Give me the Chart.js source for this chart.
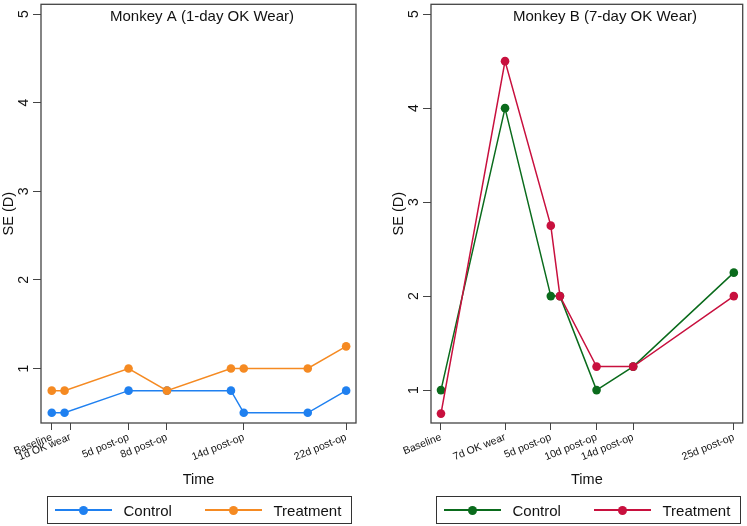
<!DOCTYPE html>
<html lang="en">
<head>
<meta charset="UTF-8">
<title>SE over time - Monkey A and Monkey B</title>
<script src="https://cdn.jsdelivr.net/npm/chart.js"></script>
<style>
  body { margin: 0; background: #fff; font-family: "Liberation Sans", Arial, sans-serif; }
  #wrap { position: relative; width: 747px; height: 526px; overflow: hidden; }
  canvas { position: absolute; top: 0; }
  #chartA { left: 0; }
  #chartB { left: 390px; }
  .legend {
    position: absolute; top: 496px; height: 28px; width: 305px;
    border: 1px solid #333; box-sizing: border-box;
  }
  #legendA { left: 47px; }
  #legendB { left: 436px; }
  .item { position: absolute; top: 0; height: 100%; display: flex; align-items: center; font-size: 15px; color: #111; }
  .swatch { position: relative; width: 57px; height: 100%; margin-right: 12px; }
  .swatch .line { position: absolute; left: 0; right: 0; top: 50%; height: 1.5px; margin-top: -0.75px; }
  .swatch .dot { position: absolute; left: 50%; top: 50%; width: 9px; height: 9px; margin: -4.5px 0 0 -4.5px; border-radius: 50%; }
</style>
</head>
<body>
<div id="wrap">
  <canvas id="chartA" width="373" height="526"></canvas>
  <canvas id="chartB" width="357" height="526"></canvas>
  <div class="legend" id="legendA"></div>
  <div class="legend" id="legendB"></div>
</div>

<script>
  // Monkey A (1-day OK wear): x in days from baseline
  const daysA = [0, 1, 6, 9, 14, 15, 20, 23];
  const controlA = [0.5, 0.5, 0.75, 0.75, 0.75, 0.5, 0.5, 0.75];
  const treatA = [0.75, 0.75, 1, 0.75, 1, 1, 1, 1.25];
  const tickPosA = [0, 1.45, 6, 9, 15, 23];
  const tickLabA = ['Baseline', '1d OK wear', '5d post-op', '8d post-op', '14d post-op', '22d post-op'];

  // Monkey B (7-day OK wear)
  const daysB = [0, 7, 12, 13, 17, 21, 32];
  const controlB = [1, 4, 2, 2, 1, 1.25, 2.25];
  const treatB = [0.75, 4.5, 2.75, 2, 1.25, 1.25, 2];
  const tickPosB = [0, 7, 12, 17, 21, 32];
  const tickLabB = ['Baseline', '7d OK wear', '5d post-op', '10d post-op', '14d post-op', '25d post-op'];

  const yTicks = [1, 2, 3, 4, 5];
  const seriesNames = ['Control', 'Treatment'];

  const FONT = '"Liberation Sans", Arial, sans-serif';
  Chart.defaults.font.family = FONT;
  Chart.defaults.color = '#111';

  // frame, rotated y tick labels and panel title
  const framePlugin = {
    id: 'frame',
    afterDraw(chart, args, opts) {
      const { ctx, chartArea: a } = chart;
      const y = chart.scales.y;
      ctx.save();
      ctx.strokeStyle = '#444';
      ctx.lineWidth = 1.3;
      ctx.strokeRect(a.left, a.top, a.right - a.left, a.bottom - a.top);

      ctx.fillStyle = '#111';
      ctx.font = '14px ' + FONT;
      ctx.textAlign = 'center';
      ctx.textBaseline = 'middle';
      y.ticks.forEach(t => {
        ctx.save();
        ctx.translate(a.left - 17, y.getPixelForValue(t.value));
        ctx.rotate(-Math.PI / 2);
        ctx.fillText(String(t.value), 0, 0);
        ctx.restore();
      });

      ctx.font = '15px ' + FONT;
      ctx.fillText(opts.text, opts.x, a.top + 13);
      ctx.restore();
    }
  };

  function makeChart(id, days, control, treat, tickPos, tickLab, cfg) {
    const pts = vals => vals.map((v, i) => ({ x: days[i], y: v }));
    return new Chart(document.getElementById(id), {
      type: 'line',
      data: {
        datasets: [
          { label: seriesNames[0], data: pts(control), borderColor: cfg.colors[0], backgroundColor: cfg.colors[0], order: 1 },
          { label: seriesNames[1], data: pts(treat), borderColor: cfg.colors[1], backgroundColor: cfg.colors[1], order: 0 }
        ]
      },
      options: {
        responsive: false,
        animation: false,
        layout: { padding: { left: 0, right: cfg.padRight, top: 1, bottom: 33 } },
        elements: {
          line: { borderWidth: 1.5, tension: 0 },
          point: { radius: 4.3, borderWidth: 0, hoverRadius: 4.3 }
        },
        scales: {
          x: {
            type: 'linear',
            min: cfg.xMin, max: cfg.xMax,
            afterBuildTicks: s => { s.ticks = tickPos.map(v => ({ value: v })); },
            afterFit: s => { s.height = 70; },
            ticks: {
              autoSkip: false, minRotation: 22, maxRotation: 22, padding: 1,
              font: { size: 10.5 }, color: '#111',
              callback: (v, i) => tickLab[i]
            },
            grid: { drawOnChartArea: false, drawTicks: true, tickLength: 7, color: '#444' },
            border: { display: false },
            title: { display: true, text: 'Time', font: { size: 14.5 }, color: '#111', padding: { top: 4, bottom: 4 } }
          },
          y: {
            min: cfg.yMin, max: cfg.yMax,
            afterBuildTicks: s => { s.ticks = yTicks.map(v => ({ value: v })); },
            afterFit: s => { s.width = 41; },
            ticks: { display: false },
            grid: { drawOnChartArea: false, drawTicks: true, tickLength: 8, color: '#444' },
            border: { display: false },
            title: { display: true, text: 'SE (D)', font: { size: 14.5 }, color: '#111', padding: { top: 0, bottom: 0 } }
          }
        },
        plugins: {
          legend: { display: false },
          tooltip: { enabled: false },
          frame: { text: cfg.title, x: cfg.titleX }
        }
      },
      plugins: [framePlugin]
    });
  }

  function buildLegend(id, colors) {
    const box = document.getElementById(id);
    seriesNames.forEach((name, i) => {
      const item = document.createElement('div');
      item.className = 'item';
      item.style.left = (6.5 + i * 150) + 'px';
      item.innerHTML = '<span class="swatch"><span class="line" style="background:' + colors[i] +
        '"></span><span class="dot" style="background:' + colors[i] + '"></span></span>' + name;
      box.appendChild(item);
    });
  }

  const colorsA = ['#1f80f0', '#f58a22'];
  const colorsB = ['#0a6b1c', '#c8103e'];

  makeChart('chartA', daysA, controlA, treatA, tickPosA, tickLabA, {
    colors: colorsA, xMin: -0.84, xMax: 23.77, yMin: 0.385, yMax: 5.11,
    padRight: 17, title: 'Monkey A (1-day OK Wear)', titleX: 202
  });
  makeChart('chartB', daysB, controlB, treatB, tickPosB, tickLabB, {
    colors: colorsB, xMin: -1.09, xMax: 32.97, yMin: 0.65, yMax: 5.105,
    padRight: 3, title: 'Monkey B (7-day OK Wear)', titleX: 215
  });

  buildLegend('legendA', colorsA);
  buildLegend('legendB', colorsB);
</script>
</body>
</html>
